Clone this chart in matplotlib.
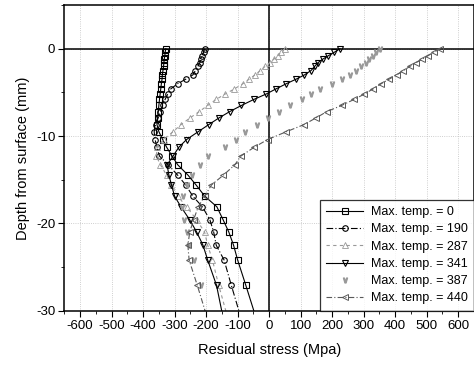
import numpy as np
import matplotlib
matplotlib.use("Agg")
import matplotlib.pyplot as plt
from matplotlib.ticker import MultipleLocator

plt.rcParams['font.family'] = ['Liberation Sans', 'DejaVu Sans']
plt.rcParams['axes.unicode_minus'] = False

# depth of the measuring points (mm)
depth = [0, -0.4, -0.8, -1.2, -1.6, -2.0, -2.5, -3.0, -3.5, -4.0, -4.6, -5.2,
         -5.8, -6.5, -7.2, -7.9, -8.7, -9.5, -10.4, -11.3, -12.3, -13.3, -14.5,
         -15.6, -16.9, -18.1, -19.6, -21.0, -22.5, -24.2, -27.1, -31.0]

# residual stress (MPa) for each max. temperature
s_0 = [-328, -330, -331, -333, -334, -335, -337, -339, -340, -342, -344, -346,
       -348, -350, -352, -354, -356, -350, -338, -325, -308, -290, -257,
       -232, -204, -166, -146, -128, -113, -100, -74, -40]
s_190 = [-205, -208, -212, -216, -220, -226, -234, -242, -265, -290, -312, -322,
         -330, -338, -345, -352, -360, -365, -362, -356, -348, -320, -290,
         -265, -242, -212, -188, -176, -168, -143, -120, -88]
s_287 = [50, 38, 27, 15, 2, -12, -28, -45, -64, -83, -110, -140,
         -168, -195, -222, -250, -280, -305, -335, -355, -358, -345, -325,
         -310, -290, -262, -230, -205, -195, -180, -160, -130]
s_341 = [225, 207, 188, 170, 155, 145, 133, 112, 85, 55, 22, -10,
         -48, -88, -125, -158, -192, -225, -262, -287, -305, -324, -318,
         -310, -300, -280, -252, -230, -210, -195, -167, -145]
s_387 = [352, 340, 328, 318, 306, 292, 275, 255, 230, 200, 160, 132,
         105, 65, 30, -5, -40, -78, -105, -140, -195, -220, -245,
         -262, -272, -276, -270, -262, -255, -240, -215, -185]
s_440 = [543, 523, 504, 486, 466, 448, 426, 405, 380, 356, 330, 302,
         270, 230, 183, 150, 110, 55, -5, -48, -90, -109, -146,
         -183, -205, -225, -240, -252, -258, -254, -228, -195]

labels = ["Max. temp. = 0", "Max. temp. = 190", "Max. temp. = 287",
          "Max. temp. = 341", "Max. temp. = 387", "Max. temp. = 440"]

fig = plt.figure(figsize=(4.74, 3.69), dpi=100)
ax = fig.add_axes([0.1357, 0.158, 0.8643, 0.8284])

ax.plot(s_0, depth, color='k', lw=0.8, marker='s', ms=4, mfc='none', mew=0.8, label=labels[0])
ax.plot(s_190, depth, color='k', lw=0.8, ls=(0, (6, 2, 1, 2)), marker='o', ms=4, mfc='none', mew=0.8, label=labels[1])
ax.plot(s_287, depth, color='0.6', lw=0.8, ls=(0, (3, 3)), marker='^', ms=4, mfc='none', mew=0.6, label=labels[2])
ax.plot(s_341, depth, color='k', lw=0.8, marker='v', ms=5, mfc='none', mew=0.8, label=labels[3])
ax.plot(s_387, depth, color='0.6', lw=0, marker='$\\vee$', ms=3.5, label=labels[4])
ax.plot(s_440, depth, color='0.35', lw=0.8, ls=(0, (5, 2, 1, 2)), marker='<', ms=4, mfc='none', mew=0.7, label=labels[5])

ax.axhline(0, color='k', lw=1.1, zorder=1)
ax.axvline(0, color='k', lw=1.1, zorder=1)

ax.set_xlim(-650, 650)
ax.set_ylim(-30, 5)
ax.set_xticks(np.arange(-600, 601, 100))
ax.set_yticks([-30, -20, -10, 0])
ax.xaxis.set_minor_locator(MultipleLocator(50))
ax.yaxis.set_minor_locator(MultipleLocator(5))
ax.tick_params(which='major', length=4, width=0.8, labelsize=9.5, direction='out', pad=2.5)
ax.tick_params(which='minor', length=2, width=0.6, direction='out')
ax.grid(True, which='major', color='0.75', ls=':', lw=0.6)
ax.set_axisbelow(True)
for sp in ax.spines.values():
    sp.set_linewidth(1.1)

ax.set_xlabel("Residual stress (Mpa)", fontsize=10.5, labelpad=8)
ax.set_ylabel("Depth from surface (mm)", fontsize=10.5, labelpad=4)

leg = ax.legend(loc='lower right', fontsize=9, handlelength=3.0, frameon=True,
                fancybox=False, edgecolor='k', borderaxespad=0, labelspacing=0.42,
                borderpad=0.5, handletextpad=0.6)
leg.get_frame().set_linewidth(0.9)

fig.savefig("out.png", dpi=100)
